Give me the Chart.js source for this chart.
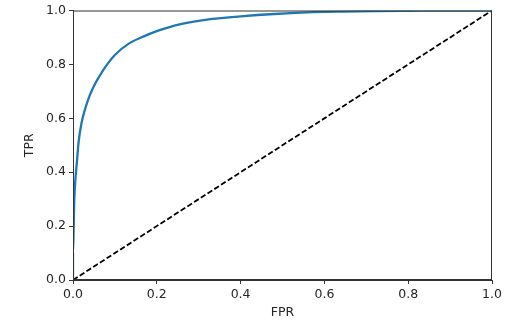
<!DOCTYPE html>
<html>
<head>
<meta charset="utf-8">
<script src="https://cdn.jsdelivr.net/npm/chart.js@4/dist/chart.umd.min.js"></script>
<style>
  html, body { margin: 0; padding: 0; background: #fff; }
  #wrap { width: 525px; height: 324px; }
</style>
</head>
<body>
<div id="wrap"><canvas id="roc"></canvas></div>
<script>
// ROC curve
const fpr = [0, 0.0, 0.0016, 0.003, 0.0055, 0.0095, 0.0136, 0.02, 0.029, 0.04, 0.05, 0.06, 0.077, 0.1, 0.133, 0.169, 0.205, 0.252, 0.32, 0.4, 0.48, 0.56, 0.64, 0.72, 0.8, 0.9, 1.0];
const tpr = [0, 0.1, 0.196, 0.294, 0.368, 0.441, 0.515, 0.58, 0.635, 0.685, 0.72, 0.748, 0.79, 0.835, 0.877, 0.904, 0.926, 0.948, 0.966, 0.978, 0.987, 0.993, 0.996, 0.998, 0.999, 1.0, 1.0];
const chanceX = [0, 1];
const chanceY = [0, 1];
const tickValues = [0, 0.2, 0.4, 0.6, 0.8, 1.0];

const font = { family: 'DejaVu Sans', size: 12.5 };
const textColor = '#262626';

// draws the top and right spines like matplotlib does
const frame = {
    id: 'frame',
    afterDraw(chart) {
        const { ctx, chartArea: a } = chart;
        ctx.save();
        ctx.strokeStyle = '#333';
        ctx.lineWidth = 1;
        ctx.strokeRect(a.left + 0.5, a.top + 0.5, a.right - a.left - 1, a.bottom - a.top - 1);
        ctx.restore();
    }
};

const fixedTicks = scale => { scale.ticks = tickValues.map(v => ({ value: v })); };

new Chart(document.getElementById('roc').getContext('2d'), {
    type: 'scatter',
    data: {
        datasets: [
            {
                data: chanceX.map((x, i) => ({ x: x, y: chanceY[i] })),
                showLine: true,
                borderColor: '#000',
                borderWidth: 1.8,
                borderDash: [5.5, 2.5],
                pointRadius: 0,
                order: 2
            },
            {
                data: fpr.map((x, i) => ({ x: x, y: tpr[i] })),
                showLine: true,
                borderColor: '#1f77b4',
                borderWidth: 2.3,
                pointRadius: 0,
                cubicInterpolationMode: 'monotone',
                order: 1
            }
        ]
    },
    options: {
        responsive: true,
        maintainAspectRatio: false,
        animation: false,
        layout: { padding: { left: 22, top: 8, right: 33, bottom: 4 } },
        plugins: {
            legend: { display: false },
            tooltip: { enabled: false }
        },
        scales: {
            x: {
                type: 'linear',
                min: 0,
                max: 1,
                afterBuildTicks: fixedTicks,
                afterFit: s => { s.height = 40; },
                grid: { drawOnChartArea: false, drawTicks: true, tickLength: 4, color: '#333' },
                border: { color: '#333' },
                ticks: { color: textColor, font: font, padding: 3, maxRotation: 0, callback: v => v.toFixed(1) },
                title: { display: true, text: 'FPR', color: textColor, font: font, padding: { top: 1, bottom: 0 } }
            },
            y: {
                type: 'linear',
                min: 0,
                max: 1,
                afterBuildTicks: fixedTicks,
                afterFit: s => { s.width = 51; },
                grid: { drawOnChartArea: false, drawTicks: true, tickLength: 4, color: '#333' },
                border: { color: '#333' },
                ticks: { color: textColor, font: font, padding: 3, callback: v => v.toFixed(1) },
                title: { display: true, text: 'TPR', color: textColor, font: font, padding: { top: 0, bottom: 4 } }
            }
        }
    },
    plugins: [frame]
});
</script>
</body>
</html>
